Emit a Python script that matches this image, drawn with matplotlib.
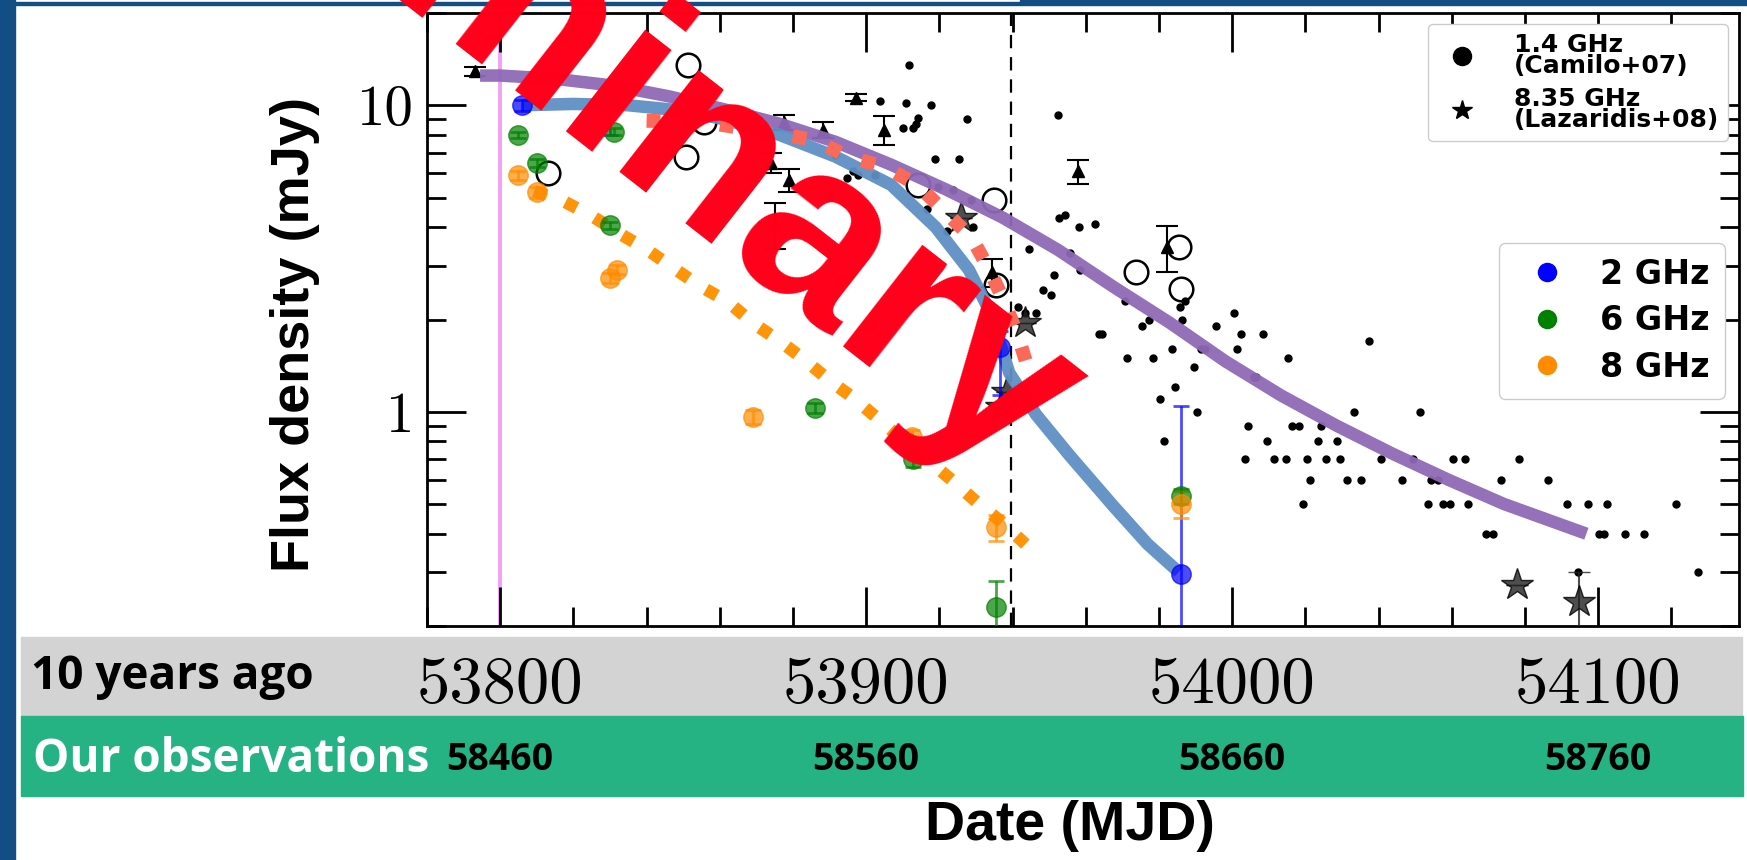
import matplotlib
matplotlib.use('Agg')
import matplotlib.pyplot as plt
from matplotlib.lines import Line2D
from matplotlib.patches import Rectangle
from matplotlib.ticker import MultipleLocator, NullFormatter, LogLocator
import matplotlib.transforms as mtransforms

# ---------------- data ----------------
x_ticks = [53800, 53900, 54000, 54100]
x_ticklabels = ['53800', '53900', '54000', '54100']
our_labels = ['58460', '58560', '58660', '58760']
y_ticks = [1, 10]
y_ticklabels = ['1', '10']

# 2 GHz (ours)
b_mjd = [53806, 53830, 53934.3, 53936.5, 53986]
b_flux = [10.0, 10.3, 1.95, 1.63, 0.296]
b_elo = [0.4, 2.3, 0.1, 0.5, 0.29]
b_ehi = [0.4, 0.3, 0.1, 0.2, 0.75]
# 6 GHz (ours)
g_mjd = [53805, 53810, 53831, 53830, 53886, 53912.7, 53935.5, 53986]
g_flux = [8.0, 6.5, 8.2, 4.06, 1.03, 0.70, 0.23, 0.53]
g_err = [0.2, 0.2, 0.2, 0.1, 0.04, 0.04, 0.05, 0.03]
# 8 GHz (ours)
o_mjd = [53805, 53810, 53830, 53832, 53886, 53869, 53912.4, 53935.5, 53986]
o_flux = [5.9, 5.2, 2.74, 2.91, 2.15, 0.96, 0.83, 0.42, 0.50]
o_err = [0.2, 0.2, 0.1, 0.1, 0.08, 0.05, 0.04, 0.04, 0.05]

# 1.4 GHz (Camilo+07): open circles and small dots
oc_mjd = [53813, 53850.8, 53851.4, 53855.6, 53914.2, 53934.9, 53935.5, 53934.9, 53973.8, 53985.4, 53986]
oc_flux = [6.0, 6.8, 13.5, 8.8, 5.5, 4.9, 2.6, 1.92, 2.85, 3.45, 2.51]
dot_mjd = [53911.7, 53903.8, 53910.9, 53917.6, 53927.6, 53914.2, 53913.6, 53910, 53912.7,
           53918.8, 53925.5, 53916.6, 53889.8, 53919.7, 53923.6, 53928.6, 53929.1, 53922.1,
           53952.3, 53952.6, 53954.4, 53958.1, 53962.4, 53944.4, 53955.6, 53958.5, 53951.4,
           53948.3, 53950.5, 53941.6, 53943.5, 53946.5, 53963.6,
           53891.6, 53896.3, 53894.7, 53897.7, 53902.4,
           53964.5, 53970.6, 53975.5, 53977.4, 53985.7, 53987, 53986.3, 53971.4, 53978.5,
           53983.5, 53991.5, 53992.6, 53989.5, 53984.5, 53980.4, 53990.3, 53981.5, 53995.5,
           54000.5, 54002.4, 54008.3, 54001.4, 54005.9, 54006.6, 54015.4, 54037.4, 54033.4, 54051.4,
           54004.4, 54016.4, 54018.4, 54024.3,
           54009.5, 54023.4, 54028.6,
           54003.6, 54011.5, 54014.6, 54020.5, 54025.6, 54029.5, 54040.6, 54049.4, 54060.4, 54063.5, 54078.3,
           54021.4, 54031.4, 54035.3, 54046.5, 54054.4, 54056.3, 54073.5, 54086.4,
           54019.5, 54053.5, 54057.7, 54059.6, 54064.5, 54091.4, 54097.3, 54102.5, 54121.4,
           54069.4, 54071.3, 54100.2, 54101.5, 54107.4, 54112.6,
           54094.5, 54127.4]
dot_flux = [13.5, 10.3, 10.2, 10.0, 9.0, 9.1, 8.7, 8.4, 8.4,
            6.7, 6.7, 4.6, 5.1, 5.4, 5.3, 4.9, 4.0, 3.9,
            9.3, 4.3, 4.4, 4.0, 4.1, 3.4, 3.3, 2.9, 2.8,
            2.5, 2.4, 2.2, 2.1, 2.1, 1.8,
            6.9, 6.1, 5.8, 5.9, 5.9,
            1.8, 2.3, 1.9, 2.0, 2.2, 2.3, 2.0, 1.5, 1.5,
            1.6, 1.6, 1.6, 1.4, 1.2, 1.1, 1.0, 0.8, 1.9,
            2.1, 1.8, 1.8, 1.6, 1.3, 1.3, 1.5, 1.7, 1.0, 1.0,
            0.9, 0.9, 0.9, 0.9,
            0.8, 0.8, 0.8,
            0.7, 0.7, 0.7, 0.7, 0.7, 0.7, 0.7, 0.7, 0.7, 0.7, 0.7,
            0.6, 0.6, 0.6, 0.6, 0.6, 0.6, 0.6, 0.6,
            0.5, 0.5, 0.5, 0.5, 0.5, 0.5, 0.5, 0.5, 0.5,
            0.4, 0.4, 0.4, 0.4, 0.4, 0.4,
            0.3, 0.3]

# black triangles with error bars
tri_mjd = [53793, 53877.6, 53873.9, 53878.8, 53875.1, 53888.3, 53897.1, 53905, 53934.3, 53957.8, 53982.3]
tri_flux = [12.9, 8.8, 6.5, 5.7, 4.1, 8.3, 10.6, 8.3, 2.85, 6.1, 3.45]
tri_err = [0.4, 0.5, 0.5, 0.5, 0.7, 0.5, 0.3, 0.9, 0.3, 0.55, 0.6]

# 8.35 GHz (Lazaridis+08) stars
star_mjd = [53925.8, 53936.8, 53938.6, 53943.5, 54077.9, 54094.9]
star_flux = [4.3, 1.04, 1.16, 1.95, 0.272, 0.24]
star_elo = [0, 0, 0, 0, 0, 0.235]
star_ehi = [0, 0, 0, 0, 0, 0.06]

# model curves
purple_mjd = [53794.5, 53800, 53815, 53830.7, 53846, 53861.2, 53876.4, 53891.6, 53906.8, 53922,
              53937.3, 53952.5, 53967.7, 53983, 53998.2, 54013.4, 54028.6, 54043.8, 54059.1,
              54074.3, 54096.8]
purple_flux = [12.5, 12.5, 12.2, 11.6, 10.7, 9.7, 8.7, 7.6, 6.4, 5.3,
               4.3, 3.37, 2.55, 1.95, 1.46, 1.13, 0.90, 0.73, 0.60,
               0.50, 0.40]
blue_mjd = [53806, 53820, 53835, 53850, 53861.2, 53876.4, 53891.6, 53906.8, 53919, 53928.1,
            53934, 53939.1, 53946.4, 53955.6, 53967.7, 53976.9, 53985.4]
blue_flux = [10.0, 10.1, 10.0, 9.6, 9.0, 8.0, 6.8, 5.5, 4.0, 2.9,
             2.1, 1.34, 0.98, 0.72, 0.49, 0.37, 0.30]
salmon_mjd = [53840, 53856, 53875, 53886, 53895, 53905, 53914, 53921.5, 53928.8, 53933.7,
              53938, 53941.6, 53944.7]
salmon_flux = [8.9, 8.8, 8.1, 7.7, 6.8, 6.3, 5.5, 4.5, 3.7, 2.9, 2.25, 1.75, 1.33]
orange_mjd = [53809.3, 53817.8, 53825.1, 53832.5, 53839.8, 53847.1, 53854.4, 53862.3, 53869,
              53876.4, 53883.1, 53889.8, 53896.5, 53903.2, 53909.9, 53916.6, 53923.3, 53930,
              53936.7, 53943.5]
orange_flux = [5.25, 4.83, 4.35, 3.82, 3.40, 2.96, 2.58, 2.28, 1.95, 1.70, 1.48, 1.27,
               1.11, 0.95, 0.81, 0.70, 0.60, 0.51, 0.44, 0.37]

mjd_start = 53800
mjd_dashed = 53939.6

# ---------------- figure ----------------
fig = plt.figure(figsize=(17.47, 8.6), dpi=100)
W, H = 1747.0, 860.0

# slide decorations
fig.patches.append(Rectangle((0, 0), 15 / W, 1, transform=fig.transFigure, color='#124e84', zorder=-2))
fig.patches.append(Rectangle((0, 1 - 4.5 / H), 1020 / W, 2.5 / H, transform=fig.transFigure, color='#124e84', zorder=-2))
fig.patches.append(Rectangle((1020 / W, 1 - 5 / H), 1 - 1020 / W, 5 / H, transform=fig.transFigure, color='#124e84', zorder=-2))
fig.patches.append(Rectangle((21 / W, 1 - 716 / H), 1721 / W, 79 / H, transform=fig.transFigure, color='#d3d3d3', zorder=-2))
fig.patches.append(Rectangle((21 / W, 1 - 796 / H), 1722 / W, 80 / H, transform=fig.transFigure, color='#25b384', zorder=-2))

ax = fig.add_axes([427 / W, 1 - 626 / H, 1312 / W, 613 / H])
ax.set_yscale('log')
ax.set_xlim(53780, 54138.5)
ax.set_ylim(0.2, 20)

# reference lines
ax.axvline(mjd_start, color='violet', alpha=0.75, lw=2.8, zorder=1)
ax.axvline(mjd_dashed, color='k', ls=(0, (6, 4)), lw=1.6, zorder=1)

# small dots and open circles (1.4 GHz)
ax.plot(dot_mjd, dot_flux, 'o', color='k', ms=5, ls='none', zorder=3)
ax.plot(oc_mjd, oc_flux, 'o', mfc='none', mec='k', mew=1.8, ms=17, ls='none', zorder=3)
# triangles
ax.errorbar(tri_mjd, tri_flux, yerr=tri_err, fmt='^', color='k', ms=9, capsize=8,
            elinewidth=1.5, capthick=1.5, zorder=3)
# stars
ax.errorbar(star_mjd, star_flux, yerr=[star_elo, star_ehi], fmt='*', color='#222222',
            mec='k', alpha=0.8, ms=24, capsize=8, elinewidth=1.5, zorder=4)

# model curves
ax.plot(purple_mjd, purple_flux, color='#8e69b6', lw=9, alpha=0.95, solid_capstyle='butt', zorder=5)
ax.plot(blue_mjd, blue_flux, color='#5f8fc5', lw=9, alpha=0.95, solid_capstyle='butt', zorder=5)
ax.plot(salmon_mjd, salmon_flux, color='#fb6a58', lw=10, ls=':', zorder=5)
ax.plot(orange_mjd, orange_flux, color='#ff9408', lw=9, ls=':', zorder=5)

# our data
ax.errorbar(b_mjd, b_flux, yerr=[b_elo, b_ehi], fmt='o', color='blue', alpha=0.7, ms=14,
            capsize=6, elinewidth=2, capthick=2, zorder=6)
ax.errorbar(g_mjd, g_flux, yerr=g_err, fmt='o', color='green', alpha=0.7, ms=14,
            capsize=6, elinewidth=2, capthick=2, zorder=6)
ax.errorbar(o_mjd, o_flux, yerr=o_err, fmt='o', color='darkorange', alpha=0.7, ms=14,
            capsize=6, elinewidth=2, capthick=2, zorder=6)

# axes styling
for s in ax.spines.values():
    s.set_linewidth(2)
ax.set_xticks(x_ticks)
ax.set_xticklabels(x_ticklabels)
ax.xaxis.set_minor_locator(MultipleLocator(20))
ax.set_yticks(y_ticks)
ax.set_yticklabels(y_ticklabels)
ax.yaxis.set_minor_locator(LogLocator(base=10, subs=[2, 3, 4, 5, 6, 7, 8, 9]))
ax.yaxis.set_minor_formatter(NullFormatter())
ax.tick_params(which='both', direction='in', top=True, right=True, width=2)
ax.tick_params(which='major', length=28)
ax.tick_params(which='minor', length=14)
ax.tick_params(axis='x', which='major', pad=22, labelsize=48)
ax.tick_params(axis='y', which='major', pad=10, labelsize=41)
for lab in ax.get_xticklabels() + ax.get_yticklabels():
    lab.set_fontfamily('cmr10')

ax.set_xlabel('Date (MJD)', fontsize=40, fontweight='bold', fontfamily='Liberation Sans', va='top')
ax.xaxis.set_label_coords((1070 - 427) / 1312, (626 - 800) / 613)
ax.set_ylabel('Flux density (mJy)', fontsize=39, fontweight='bold', fontfamily='Liberation Sans')
ax.yaxis.set_label_coords((320 - 427) / 1312, (626 - 334) / 613)

# legends
h1 = [Line2D([], [], marker='o', color='k', ls='none', ms=13),
      Line2D([], [], marker='*', color='k', ls='none', ms=15)]
leg1 = ax.legend(h1, ['1.4 GHz\n(Camilo+07)', '8.35 GHz\n(Lazaridis+08)'], loc='upper right',
                 bbox_to_anchor=((1728 - 427) / 1312, 1 - (24 - 13) / 613), borderaxespad=0,
                 prop=dict(family='DejaVu Sans', weight='bold', size=18), handletextpad=1.1,
                 labelspacing=0.35, borderpad=0.35, framealpha=1)
for t in leg1.get_texts():
    t.set_linespacing(0.85)
ax.add_artist(leg1)
h2 = [Line2D([], [], marker='o', color=c, ls='none', ms=13) for c in ['blue', 'green', 'darkorange']]
ax.legend(h2, ['2 GHz', '6 GHz', '8 GHz'], loc='upper right',
          bbox_to_anchor=((1725 - 427) / 1312, 1 - (243 - 13) / 613), borderaxespad=0,
          prop=dict(family='DejaVu Sans', weight='bold', size=24), handletextpad=0.6,
          labelspacing=0.4, borderpad=0.45, framealpha=1)

# band labels
fig.text(31 / W, 1 - 677 / H, '10 years ago', fontsize=33, fontweight='bold',
         fontfamily='Open Sans', va='center', ha='left', color='black')
fig.text(33 / W, 1 - 760 / H, 'Our observations', fontsize=33, fontweight='bold',
         fontfamily='Open Sans', va='center', ha='left', color='white')
band_tr = mtransforms.blended_transform_factory(ax.transData, fig.transFigure)
for xv, lab in zip(x_ticks, our_labels):
    ax.text(xv, 1 - 760 / H, lab, transform=band_tr, fontsize=27, fontweight='bold',
            fontfamily='Open Sans', ha='center', va='center', clip_on=False)

# watermark
fig.text(1007 / W, 1 - 488 / H, 'Preliminary', fontsize=175, fontweight='bold',
         fontfamily='Liberation Sans', color='#ff0019', rotation=-38,
         rotation_mode='anchor', ha='right', va='baseline', zorder=10)

fig.savefig('out.png', dpi=100, facecolor='white')
